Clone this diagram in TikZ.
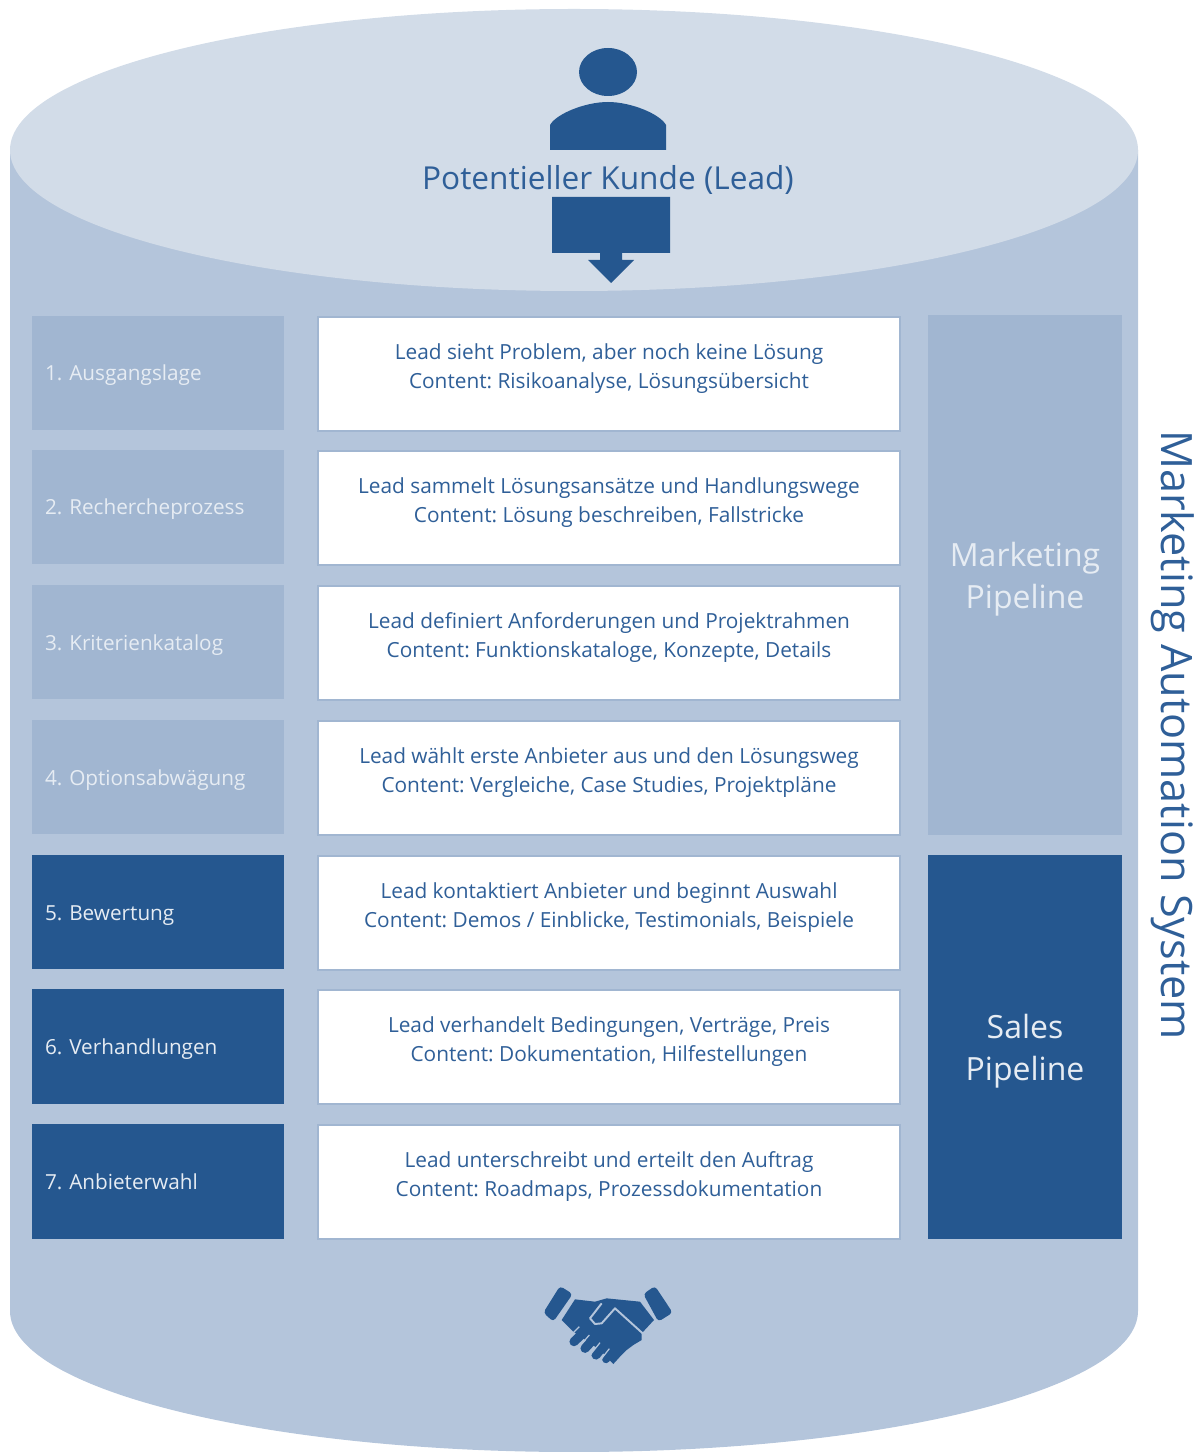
\documentclass[tikz,border=0pt]{standalone}
\usepackage{fontspec}
\setmainfont{Open Sans}
\frenchspacing
\definecolor{leadblue}{HTML}{25578F}
\definecolor{textblue}{HTML}{2F5F98}
\definecolor{drumside}{HTML}{B4C5DB}
\definecolor{drumtop}{HTML}{D2DCE8}
\definecolor{stagelight}{HTML}{A1B6D1}
\definecolor{stagetext}{HTML}{E6ECF3}
\tikzset{
  stagebox/.style={fill=#1,text=stagetext,minimum width=5.04cm,minimum height=2.3cm,text width=4.52cm,inner xsep=0.26cm,inner ysep=0pt,text height=0.42cm,text depth=0.1cm,align=left,font=\fontsize{11.8pt}{17pt}\selectfont},
  infobox/.style={draw=stagelight,line width=1.1pt,fill=white,text=textblue,minimum width=11.66cm,minimum height=2.28cm,align=center,font=\fontsize{11.85pt}{17pt}\selectfont},
  pipebox/.style={fill=#1,minimum width=3.88cm,align=center,inner sep=0pt,font=\fontsize{18.2pt}{23.8pt}\selectfont}
}
\begin{document}
\begin{tikzpicture}[x=0.02cm,y=-0.02cm]
  \useasboundingbox (0,0) rectangle (1200,1452);
  \fill[drumside] (10,150) -- (10,1311) arc[start angle=180,end angle=0,x radius=564,y radius=141] -- (1138,150) -- cycle;
  \fill[drumtop] (574,150) ellipse[x radius=564,y radius=141];

  \fill[leadblue] (608,72) ellipse[x radius=29,y radius=24];
  \fill[leadblue] (550,150) -- (550,125) .. controls (556,114) and (585,102) .. (608,102) .. controls (631,102) and (660,114) .. (666,125) -- (666,150) -- cycle;
  \node[text=textblue,font=\fontsize{18pt}{22pt}\selectfont] (lead) at (608,180) {Potentieller Kunde (Lead)};
  \fill[leadblue] (552,197) -- (670,197) -- (670,253) -- (622,253) -- (622,260) -- (634,260) -- (611,283) -- (588,260) -- (600,260) -- (600,253) -- (552,253) -- cycle;

  \node[stagebox=stagelight] (stage1) at (158,373) {1. Ausgangslage};
  \node[stagebox=stagelight] (stage2) at (158,507) {2. Rechercheprozess};
  \node[stagebox=stagelight] (stage3) at (158,642) {3. Kriterienkatalog};
  \node[stagebox=stagelight] (stage4) at (158,777) {4. Optionsabwägung};
  \node[stagebox=leadblue] (stage5) at (158,912) {5. Bewertung};
  \node[stagebox=leadblue] (stage6) at (158,1046) {6. Verhandlungen};
  \node[stagebox=leadblue] (stage7) at (158,1181) {7. Anbieterwahl};

  \node[infobox] (info1) at (609,374) {Lead sieht Problem, aber noch keine Lösung\\Content: Risikoanalyse, Lösungsübersicht\\[-0.28cm]};
  \node[infobox] (info2) at (609,508) {Lead sammelt Lösungsansätze und Handlungswege\\Content: Lösung beschreiben, Fallstricke\\[-0.28cm]};
  \node[infobox] (info3) at (609,643) {Lead definiert Anforderungen und Projektrahmen\\Content: Funktionskataloge, Konzepte, Details\\[-0.28cm]};
  \node[infobox] (info4) at (609,778) {Lead wählt erste Anbieter aus und den Lösungsweg\\Content: Vergleiche, Case Studies, Projektpläne\\[-0.28cm]};
  \node[infobox] (info5) at (609,913) {Lead kontaktiert Anbieter und beginnt Auswahl\\Content: Demos / Einblicke, Testimonials, Beispiele\\[-0.28cm]};
  \node[infobox] (info6) at (609,1047) {Lead verhandelt Bedingungen, Verträge, Preis\\Content: Dokumentation, Hilfestellungen\\[-0.28cm]};
  \node[infobox] (info7) at (609,1182) {Lead unterschreibt und erteilt den Auftrag\\Content: Roadmaps, Prozessdokumentation\\[-0.28cm]};

  \node[pipebox=stagelight,text=stagetext,minimum height=10.4cm] (marketing) at (1025,575) {\rule{0pt}{0.65cm}Marketing\\Pipeline};
  \node[pipebox=leadblue,text=stagetext,minimum height=7.68cm] (sales) at (1025,1047) {\rule{0pt}{0.65cm}Sales\\Pipeline};
  \node[rotate=-90,text=textblue,font=\fontsize{24.6pt}{28pt}\selectfont] (system) at (1173,735) {Marketing Automation System};

  \begin{scope}[shift={(520,1270)},x=0.00667cm,y=-0.00667cm]
    \fill[leadblue,rounded corners=2pt] (120,48) -- (158,72) -- (100,155) -- (70,128) -- cycle;
    \fill[leadblue,rounded corners=2pt] (405,48) -- (458,128) -- (415,155) -- (370,72) -- cycle;
    \fill[leadblue] (165,88) -- (225,95) -- (260,85) -- (360,95) -- (402,150) -- (365,190) -- (365,210) -- (340,225) -- (320,240) -- (300,260) -- (280,282) -- (240,240) -- (160,185) -- (125,150) -- cycle;
    \draw[drumside,line width=1.1pt,line join=round] (368,190) -- (285,115) -- (245,160) -- (225,162) -- (210,145) -- (245,100);
    \draw[leadblue,line width=5.2pt,line cap=round] (162,215) -- (190,188);
    \draw[leadblue,line width=5.2pt,line cap=round] (195,235) -- (220,208);
    \draw[leadblue,line width=5.2pt,line cap=round] (228,255) -- (248,230);
    \draw[leadblue,line width=4.4pt,line cap=round] (258,268) -- (272,248);
    \draw[drumside,line width=0.7pt] (178,170) -- (148,200);
    \draw[drumside,line width=0.7pt] (208,195) -- (176,232);
    \draw[drumside,line width=0.7pt] (240,218) -- (208,258);
    \draw[drumside,line width=0.7pt] (268,236) -- (240,272);
  \end{scope}
\end{tikzpicture}
\end{document}
